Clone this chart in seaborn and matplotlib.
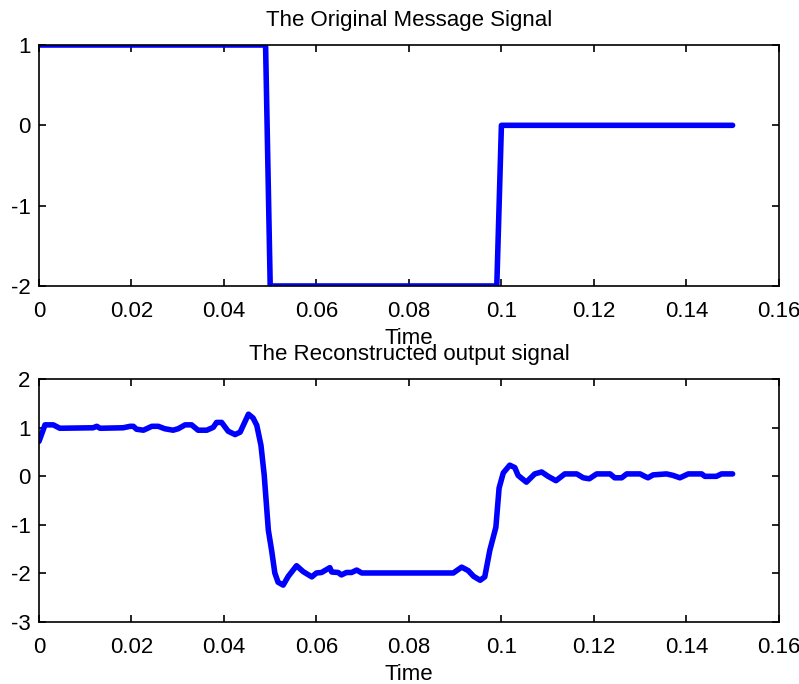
import matplotlib
matplotlib.use("Agg")
import matplotlib.pyplot as plt
import seaborn as sns
import pandas as pd

# original message signal (sampled steps)
t_msg = [0.0, 0.049, 0.05, 0.099, 0.1, 0.15]
m_msg = [1, 1, -2, -2, 0, 0]

# reconstructed signal
t_rec = [0.0, 0.0013, 0.0031, 0.0045, 0.0117, 0.0125, 0.0132, 0.0182, 0.0197, 0.0204,
         0.0211, 0.0226, 0.0244, 0.0258, 0.0272, 0.029, 0.0301, 0.0316, 0.033, 0.0344,
         0.0363, 0.0377, 0.0384, 0.0395, 0.0409, 0.0424, 0.0435, 0.0453, 0.0463, 0.0471,
         0.048, 0.0487, 0.0496, 0.0503, 0.051, 0.0517, 0.0528, 0.0539, 0.0557, 0.0571,
         0.059, 0.06, 0.0611, 0.0629, 0.0633, 0.0647, 0.0654, 0.0665, 0.0676, 0.0687,
         0.0698, 0.0896, 0.0914, 0.0928, 0.094, 0.0954, 0.0964, 0.0975, 0.0988, 0.0995,
         0.1004, 0.1018, 0.1029, 0.1036, 0.1054, 0.1072, 0.1087, 0.1101, 0.1118, 0.1137,
         0.1163, 0.1177, 0.119, 0.1206, 0.1235, 0.1245, 0.126, 0.1271, 0.13, 0.131,
         0.1317, 0.1328, 0.1357, 0.1371, 0.1386, 0.1404, 0.1433, 0.144, 0.1465, 0.1476,
         0.15]
y_rec = [0.72, 1.06, 1.06, 0.99, 1.0, 1.03, 0.99, 1.0, 1.03, 1.03,
         0.97, 0.95, 1.03, 1.03, 0.98, 0.95, 0.98, 1.06, 1.06, 0.95,
         0.95, 1.01, 1.11, 1.11, 0.93, 0.86, 0.91, 1.28, 1.2, 1.05,
         0.64, 0.03, -1.11, -1.52, -1.99, -2.18, -2.24, -2.06, -1.84, -1.96,
         -2.07, -1.99, -1.98, -1.88, -1.97, -1.98, -2.03, -1.98, -1.98, -1.93,
         -1.99, -1.99, -1.87, -1.94, -2.06, -2.14, -2.07, -1.52, -1.05, -0.24,
         0.07, 0.23, 0.18, 0.02, -0.12, 0.05, 0.09, 0.0, -0.09, 0.05,
         0.05, -0.03, -0.05, 0.05, 0.05, -0.03, -0.03, 0.05, 0.05, 0.0,
         -0.03, 0.03, 0.05, 0.02, -0.03, 0.05, 0.05, 0.0, 0.0, 0.05,
         0.05]

x_ticks = [0, 0.02, 0.04, 0.06, 0.08, 0.1, 0.12, 0.14, 0.16]
x_labels = ["0", "0.02", "0.04", "0.06", "0.08", "0.1", "0.12", "0.14", "0.16"]

sns.set_style("ticks")
plt.rcParams['font.family'] = ['Liberation Sans', 'DejaVu Sans']
plt.rcParams['font.size'] = 16
plt.rcParams['text.color'] = 'black'
plt.rcParams['axes.labelcolor'] = 'black'

fig = plt.figure(figsize=(7.99, 6.84), dpi=100)
ax1 = fig.add_axes([0.0488, 0.5819, 0.926, 0.3523])
ax2 = fig.add_axes([0.0488, 0.0906, 0.926, 0.355])

df_msg = pd.DataFrame({"t": t_msg, "m": m_msg})
df_rec = pd.DataFrame({"t": t_rec, "y": y_rec})

sns.lineplot(data=df_msg, x="t", y="m", ax=ax1, color=(0, 0, 1), linewidth=4,
             estimator=None, sort=False)
sns.lineplot(data=df_rec, x="t", y="y", ax=ax2, color=(0, 0, 1), linewidth=4,
             estimator=None, sort=False)

for ax, ylim, yt, title in [(ax1, (-2, 1), [-2, -1, 0, 1], "The Original Message Signal"),
                            (ax2, (-3, 2), [-3, -2, -1, 0, 1, 2], "The Reconstructed output signal")]:
    ax.set_xlim(0, 0.16)
    ax.set_ylim(*ylim)
    ax.set_xticks(x_ticks)
    ax.set_xticklabels(x_labels)
    ax.set_yticks(yt)
    ax.set_yticklabels([str(v) for v in yt])
    ax.set_xlabel("Time", fontsize=16, labelpad=4, color="black")
    ax.set_ylabel("")
    ax.set_title(title, fontsize=16, pad=14, color="black")
    ax.tick_params(axis="x", direction="in", length=5, width=1.2, top=True,
                   labelsize=16, pad=11, colors="black")
    ax.tick_params(axis="y", direction="in", length=5, width=1.2, right=True,
                   labelsize=16, pad=6, colors="black")
    for s in ax.spines.values():
        s.set_visible(True)
        s.set_linewidth(1.2)
        s.set_color("black")

fig.savefig("out.png", dpi=100)
